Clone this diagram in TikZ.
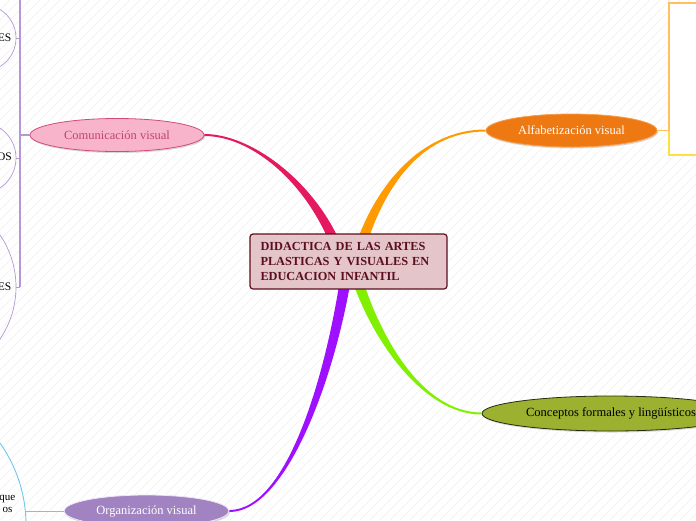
\documentclass[tikz,border=0pt]{standalone}
\usepackage{fontspec}
\setmainfont{Liberation Serif}
\usetikzlibrary{shapes.geometric,shadows,calc}

\definecolor{crimson}{HTML}{E4195F}
\definecolor{orangeline}{HTML}{FF9A00}
\definecolor{limeline}{HTML}{80F000}
\definecolor{violetline}{HTML}{9E10FF}
\definecolor{compink}{HTML}{F8B4CB}
\definecolor{comedge}{HTML}{D34B7C}
\definecolor{comtext}{HTML}{C2456F}
\definecolor{alforange}{HTML}{EE7812}
\definecolor{alfedge}{HTML}{F5A050}
\definecolor{olive}{HTML}{9BB12F}
\definecolor{oliveedge}{HTML}{2A2A10}
\definecolor{orgpurple}{HTML}{A283C2}
\definecolor{orgedge}{HTML}{EEE4F6}
\definecolor{boxpink}{HTML}{E4C5C9}
\definecolor{maroon}{HTML}{5C0E1E}
\definecolor{lilac}{HTML}{B597D3}
\definecolor{sky}{HTML}{6FC7EF}
\definecolor{peach}{HTML}{FFC060}
\definecolor{lemon}{HTML}{FFE040}
\definecolor{hatch}{HTML}{EEEEEE}

% tapered branch: colour, start, end, control at start, control at end, side
\newcommand{\branch}[6]{%
  \fill[#1] ($(#2)+(0,-1)$) .. controls +(#4) and +(#5) .. ($(#3)+({#6*5.5},0)$)
    -- ($(#3)+({#6*-5.5},0)$) .. controls +(#5) and +(#4) .. ($(#2)+(0,1)$) -- cycle;}

\begin{document}
\begin{tikzpicture}[x=1pt,y=-1pt,
    topic/.style = {ellipse, draw, line width=0.8pt, inner sep=0pt, minimum height=33pt,
        font=\fontsize{12.5}{14}\selectfont,
        drop shadow={shadow xshift=1pt, shadow yshift=-1.5pt, opacity=0.3}},
    sub/.style = {circle, draw=lilac, line width=0.7pt, inner sep=0pt},
    subtext/.style = {anchor=east, inner sep=0pt, font=\fontsize{11.5}{13}\selectfont}]

            \useasboundingbox (0,0) rectangle (696,520);
            \clip (0,0) rectangle (696,520);

            % faint background hatch
            \foreach \x in {-520,-510,...,700}
                \draw[hatch, line width=0.5pt] (\x,520) -- ({\x+520},0);

            \node[topic, draw=comedge, fill=compink, text=comtext, minimum width=174pt] (com) at (117,135) {Comunicación visual};
            \node[topic, draw=alfedge, fill=alforange, text=white, minimum width=171pt] (alf) at (571.5,130.5) {Alfabetización visual};
            \node[topic, draw=oliveedge, fill=olive, minimum width=258pt, minimum height=35pt] (con) at (611,413.5) {Conceptos formales y lingüísticos};
            \node[topic, draw=orgedge, fill=orgpurple, text=white, minimum width=165pt, minimum height=32pt] (org) at (146.5,511) {Organización visual};

            \coordinate (centre) at (348.5,261.5);
            \coordinate (comEnd) at (342,262);
            \coordinate (alfEnd) at (356,262);
            \coordinate (conEnd) at (352,262);
            \coordinate (orgEnd) at (348,262);

            % branches from the topics into the centre box
            \branch{crimson}{com.east}{comEnd}{51,0}{-22,-72}{1}
            \branch{orangeline}{alf.west}{alfEnd}{-66,0}{19,-72}{-1}
            \branch{limeline}{con.west}{conEnd}{-62,0}{18,68}{1}
            \branch{violetline}{org.east}{orgEnd}{61,0}{-13,98}{-1}

            \node[draw=maroon, fill=boxpink, line width=1.2pt, rounded corners=3pt,
                  minimum width=197pt, minimum height=55pt, text width=176pt, align=left,
                  text=maroon, font=\bfseries\fontsize{12.3}{15}\selectfont] (tema) at (centre)
                  {\mbox{DIDACTICA DE LAS ARTES}\\\mbox{PLASTICAS Y VISUALES EN}\\\mbox{EDUCACION INFANTIL}};

            % children of Comunicación visual
            \coordinate (comBar) at (20,135);
            \coordinate (barTop) at (20,-5);
            \coordinate (barBot) at (20,287);
            \draw[lilac, line width=1.2pt] (com.west) -- (comBar);
            \draw[lilac, line width=1.2pt] (barTop) -- (barBot);

            \node[sub, minimum size=66.8pt] (es1) at (-17.4,38) {};
            \node[sub, minimum size=72pt] (os2) at (-20,158) {};
            \node[sub, minimum size=185pt] (es3) at (-76.5,287) {};
            \draw[lilac, line width=0.9pt] (es1.east) -- (es1.east -| comBar);
            \draw[lilac, line width=0.9pt] (os2.east) -- (os2.east -| comBar);
            \draw[lilac, line width=0.9pt] (es3.east) -- (es3.east -| comBar);
            \node[subtext] (es1t) at (11.5,38) {ES};
            \node[subtext] (os2t) at (12,157) {OS};
            \node[subtext] (es3t) at (11.5,287) {ES};

            % child of Organización visual
            \node[circle, draw=sky, line width=0.9pt, minimum size=284pt, inner sep=0pt] (que) at (-116,525) {};
            \draw[sky, line width=1pt] (org.west) -- (org.west -| que.east);
            \node[subtext, font=\fontsize{11}{12}\selectfont] (quet) at (15.5,499) {que};
            \node[subtext, font=\fontsize{11}{12}\selectfont] (ost) at (12.5,510) {os};

            % child of Alfabetización visual
            \coordinate (alfBox) at (669,130.5);
            \coordinate (boxTop) at (700,3);
            \coordinate (boxBot) at (700,155);
            \fill[white] (boxTop -| alfBox) rectangle (boxBot);
            \draw[peach, line width=1.5pt] (alf.east) -- (alfBox);
            \draw[peach, line width=1.5pt] (boxTop) -- (boxTop -| alfBox) -- (alfBox);
            \draw[lemon, line width=1.5pt] (alfBox) -- (boxBot -| alfBox) -- (boxBot);

\end{tikzpicture}
\end{document}
